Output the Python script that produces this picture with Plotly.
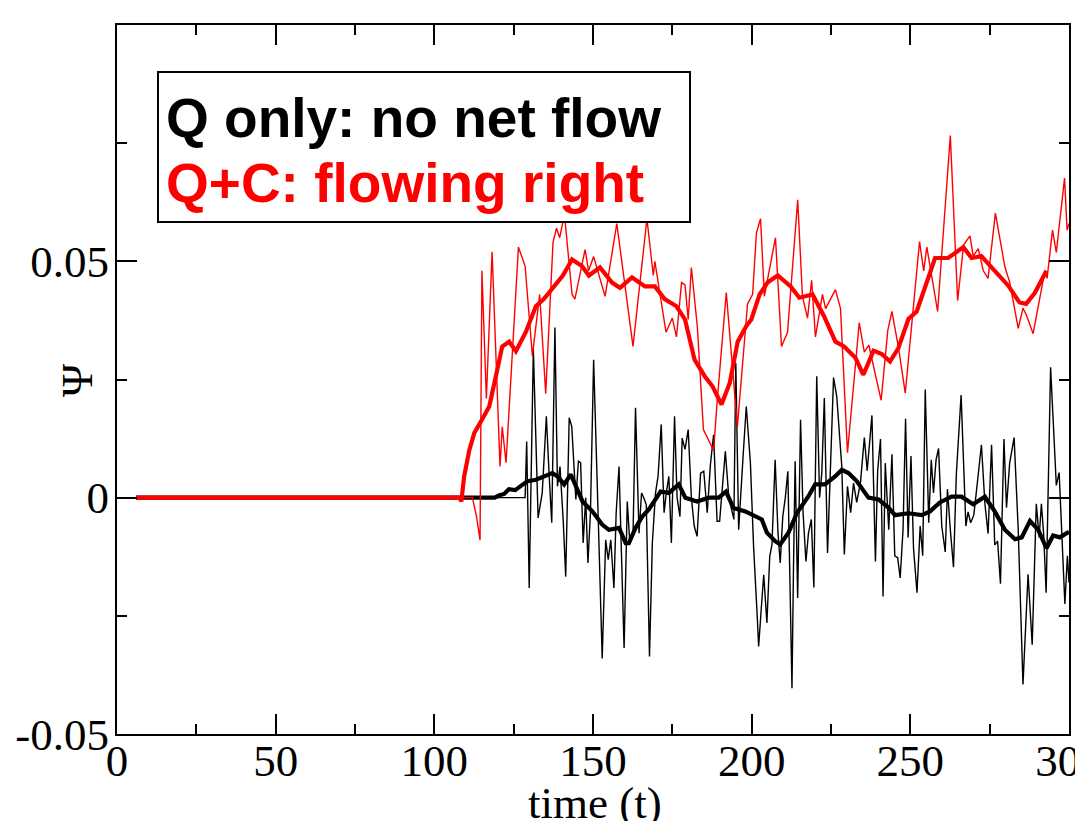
import plotly.graph_objects as go

# ---------------- data ----------------
# Q only (black): raw and smoothed
q_raw_t = [6, 128.6, 129.1, 129.9, 131.2, 132.7, 134.0, 135.3, 136.2, 137.0, 138.0, 138.8, 139.6, 140.6,
           141.4, 142.5, 143.3, 144.6, 145.4, 146.1, 146.9, 147.7, 148.4, 149.2, 150.2, 151.2, 151.9,
           152.9, 154.0, 154.8, 155.6, 156.6, 157.3, 158.2, 159.0, 159.8, 160.8, 161.6, 162.6, 163.4,
           164.5, 165.3, 166.0, 166.8, 167.8, 168.7, 169.7, 170.5, 171.5, 172.4, 173.1, 173.9, 174.7,
           175.7, 176.5, 177.4, 178.1, 179.0, 180.0, 181.0, 181.9, 182.8, 183.9, 184.9, 186.0, 187.0,
           188.0, 189.1, 189.9, 190.9, 191.7, 192.8, 193.8, 194.4, 195.0, 195.9, 197.3, 198.3, 199.6,
           200.6, 201.7, 202.2, 203.0, 203.8, 204.8, 205.7, 206.4, 207.4, 208.3, 209.0, 209.8, 210.6,
           211.4, 212.2, 212.7, 213.2, 213.7, 214.5, 215.4, 216.2, 217.1, 217.9, 218.8, 219.6, 220.5,
           221.4, 222.1, 222.9, 223.9, 224.7, 225.8, 226.8, 228.4, 229.2, 230.2, 231.2, 232.1, 233.1,
           234.3, 235.5, 236.4, 237.9, 239.0, 239.7, 240.6, 241.4, 242.1, 243.2, 244.2, 245.1, 246.0,
           246.8, 247.7, 248.5, 249.3, 250.2, 251.0, 252.1, 253.1, 253.9, 254.7, 255.8, 256.6, 257.3,
           258.1, 258.9, 259.9, 261.0, 261.7, 262.6, 263.6, 264.5, 266.0, 267.5, 268.2, 269.0, 270.0,
           271.4, 272.4, 273.5, 274.5, 275.6, 276.6, 277.5, 278.4, 279.5, 280.3, 281.3, 282.7, 284.0,
           285.5, 287.1, 288.4, 289.7, 290.6, 291.3, 292.0, 292.8, 294.2, 296.0, 296.9, 298.7, 299.5, 300]
q_raw_v = [0, 0, 0.0119, -0.0191, 0.0314, -0.0043, 0.001, 0.0172, 0.0045, -0.0053, 0.036, 0.0024, 0.0066, -0.0047,
           -0.0167, 0.0169, 0.0151, -0.0004, 0.0077, 0.0074, -0.0096, 0.0, -0.0138, -0.0032, 0.0292, 0.008, -0.0103,
           -0.034, -0.0089, -0.0131, -0.0089, -0.0191, -0.0032, 0.0066, -0.0138, -0.0318, -0.0008, -0.0096, -0.0082, 0.019,
           -0.0075, 0.001, 0.0, -0.0015, -0.0336, -0.0096, 0.001, 0.0045, 0.0155, -0.0032, 0.001, 0.0045, -0.0096,
           0.0172, 0.0, -0.004, 0.0126, 0.0102, 0.0144, 0.0, -0.006, -0.0082, 0.0052, 0.0056, -0.0032, 0.007,
           0.0133, -0.005, -0.005, 0.0028, 0.0098, 0.0, -0.0032, -0.0046, 0.0285, -0.0068, 0.0088, 0.0193, 0.0074,
           -0.0103, -0.0244, -0.0315, -0.0237, -0.0163, -0.0265, -0.0124, -0.0099, 0.008, -0.0075, -0.0138, -0.004, 0.0,
           0.0056, -0.0265, -0.0403, -0.0138, 0.0077, -0.0212, 0.0165, -0.0032, -0.0135, -0.0075, -0.0046, -0.019, 0.0257,
           0.0, 0.0052, 0.0211, -0.0117, 0.0038, 0.0254, 0.0215, 0.0066, -0.012, 0.0024, -0.0032, 0.0031, -0.001,
           0.0033, 0.0127, 0.0057, 0.0174, -0.0135, 0.0057, 0.0124, -0.0209, 0.0073, -0.0068, 0.0092, -0.0123, -0.0127,
           -0.017, -0.0068, 0.0167, -0.0084, 0.0088, -0.0107, -0.0201, -0.006, -0.0123, 0.0229, -0.0053, 0.008, 0.001,
           0.008, 0.0104, -0.006, -0.0115, 0.0018, -0.0068, -0.0147, 0.005, 0.0217, -0.006, -0.003, -0.0053, -0.0037,
           0.0049, 0.0112, -0.0013, -0.0076, 0.0112, -0.01, -0.0092, -0.0182, 0.0124, -0.0021, 0.0073, 0.0127, -0.0068,
           -0.0395, -0.0162, -0.0311, -0.0013, -0.0084, -0.0013, -0.0076, -0.0201, 0.0276, 0.0026, 0.0053, -0.0225, -0.0123, -0.018]

q_avg_t = [6, 119, 120.5, 122, 123.5, 125.5, 127.5, 129.4, 132, 134.6, 137.2, 138.8, 140.9, 143, 144.6, 146.7,
           149.8, 152.9, 155, 158.2, 160.3, 161.3, 163.4, 165.5, 167.6, 171.3, 173.9, 177, 179.1, 182.8, 186.5,
           189.6, 191.9, 194.3, 198, 201.2, 203.2, 204.8, 207.4, 209, 211.6, 214.3, 217.9, 220, 223.1, 226.3,
           228.4, 230.5, 233.1, 236.8, 240, 243.1, 245.2, 249.4, 253.6, 256.2, 259.3, 263, 266.1, 269.8, 273.5,
           276.6, 279.8, 283, 285.1, 287.7, 290.3, 292.9, 295, 297.1, 299.5, 300]
q_avg_v = [0, 0, 0.0005, 0.0008, 0.0018, 0.0016, 0.0026, 0.0035, 0.0038, 0.0045, 0.0052, 0.0045, 0.0028, 0.0049,
           0.0024, -0.0008, -0.0029, -0.0057, -0.0068, -0.0064, -0.0096, -0.0096, -0.0064, -0.004, -0.0025, 0.0013,
           0.001, 0.0028, 0.0, -0.0008, 0.0, 0.0, 0.0013, -0.0022, -0.0029, -0.004, -0.0046, -0.0074, -0.0092, -0.0099,
           -0.0074, -0.0032, 0.0003, 0.0028, 0.0028, 0.0045, 0.0059, 0.0052, 0.0035, 0.0, -0.0004, -0.0021, -0.0037,
           -0.0033, -0.0037, -0.0029, -0.001, 0.0002, 0.0002, -0.0014, 0.0002, -0.0029, -0.0068, -0.0088, -0.0084,
           -0.0049, -0.0068, -0.0107, -0.008, -0.0084, -0.0072, -0.0072]

# Q+C (red): raw and smoothed
qc_raw_t = [6, 112, 113.3, 114.4, 115.0, 116.4, 118.2, 120.7, 121.4, 122.6, 126.5, 128.6, 130.9, 133.2, 135.1,
            137.4, 138.5, 139.5, 141.0, 143.4, 144.3, 147.5, 148.6, 150.2, 153.8, 157.5, 162.6, 167.0, 169.0,
            169.5, 173.0, 175.0, 176.3, 177.9, 179.0, 180.0, 181.0, 182.9, 184.8, 188.0, 189.2, 192.0, 195.5,
            198.7, 200.3, 201.5, 202.8, 204.0, 207.5, 209.4, 211.3, 214.5, 216.0, 217.6, 218.9, 220.1, 222.3,
            223.3, 226.4, 228.0, 230.2, 233.9, 235.5, 236.9, 240.8, 242.9, 244.2, 246.3, 248.4, 252.9, 254.2,
            255.2, 258.6, 262.6, 264.9, 266.8, 268.8, 269.8, 271.4, 273.0, 274.5, 276.8, 279.8, 281.3, 284.0,
            285.5, 286.6, 288.7, 292.4, 293.1, 294.8, 296.0, 298.6, 299.4, 300]
qc_raw_v = [0, 0, -0.004, -0.009, 0.048, 0.021, 0.052, 0.0066, 0.015, 0.0074, 0.053, 0.049, 0.030, 0.043, 0.022,
            0.054, 0.057, 0.055, 0.060, 0.043, 0.042, 0.0525, 0.048, 0.051, 0.0426, 0.058, 0.032, 0.059, 0.047,
            0.050, 0.035, 0.038, 0.034, 0.0455, 0.045, 0.0377, 0.0487, 0.036, 0.0144, 0.010, 0.021, 0.0434, 0.015,
            0.041, 0.043, 0.056, 0.059, 0.0426, 0.055, 0.032, 0.035, 0.063, 0.0426, 0.038, 0.046, 0.034, 0.043,
            0.040, 0.044, 0.040, 0.0095, 0.037, 0.0308, 0.0323, 0.0206, 0.0354, 0.0394, 0.0316, 0.0221, 0.0542, 0.048,
            0.053, 0.0394, 0.0766, 0.0417, 0.0535, 0.0554, 0.0511, 0.0527, 0.048, 0.0464, 0.0602, 0.0488, 0.0456, 0.0358,
            0.0401, 0.0386, 0.0347, 0.048, 0.0464, 0.0566, 0.0519, 0.0676, 0.0566, 0.058]

qc_avg_t = [6, 108, 108.5, 109.4, 111, 112.6, 115, 117.3, 119.5, 121.4, 123.6, 125.7, 128.8, 132, 134.5, 137.7,
            140.5, 143.4, 146.5, 148.7, 152.2, 156, 158.5, 162.3, 166.4, 169.5, 172.6, 176.3, 179, 182, 185.2,
            187.7, 190.5, 193.1, 195.6, 198.3, 199.9, 202.5, 205, 208.2, 212.3, 215, 219.2, 222.8, 226.4, 229.1,
            232.7, 235.2, 238.4, 241, 243.6, 246.2, 249.4, 252, 255.7, 257.8, 261.9, 266.7, 269.3, 272.4, 276.6,
            280.8, 284.4, 286.5, 289.2, 292.9]
qc_avg_v = [0, 0, -0.0008, 0.0045, 0.010, 0.0137, 0.0165, 0.0193, 0.026, 0.032, 0.033, 0.031, 0.035, 0.0405, 0.042,
            0.0447, 0.047, 0.0504, 0.049, 0.047, 0.0487, 0.0455, 0.0444, 0.0466, 0.0447, 0.0447, 0.042, 0.0405,
            0.0377, 0.0292, 0.0257, 0.0235, 0.0197, 0.0243, 0.033, 0.0363, 0.0377, 0.043, 0.0455, 0.047, 0.0447,
            0.0423, 0.043, 0.0384, 0.033, 0.032, 0.0296, 0.026, 0.0311, 0.0304, 0.0288, 0.0316, 0.0378, 0.0394,
            0.0464, 0.0507, 0.0507, 0.053, 0.0507, 0.0511, 0.048, 0.0449, 0.0413, 0.041, 0.0433, 0.048]

x_ticks = [0, 50, 100, 150, 200, 250, 300]
x_tick_text = ["0", "50", "100", "150", "200", "250", "300"]
x_minor = [25, 75, 125, 175, 225, 275]
y_ticks = [-0.05, 0, 0.05]
y_tick_text = ["-0.05", "0", "0.05"]
y_minor = [-0.025, 0.025, 0.075]

x_title = "time (t)"
y_title = "Ψ"
legend_lines = ["Q only: no net flow", "Q+C: flowing right"]

# ---------------- figure ----------------
# page has an 8px body margin: plot area in page pixels is x 117..1069, y 25..734
OFF = 8
W, H = 1083, 821
L, T = 117 - OFF, 25 - OFF
pw, ph = 952, 709
R = W - L - pw
B = H - T - ph

def px(xp):   # page pixel x -> paper
    return (xp - 117) / pw

def py(yp):   # page pixel y -> paper
    return (734 - yp) / ph

fig = go.Figure()
fig.add_trace(go.Scatter(x=q_raw_t, y=q_raw_v, mode="lines",
                         line=dict(color="black", width=1.4), showlegend=False))
fig.add_trace(go.Scatter(x=q_avg_t, y=q_avg_v, mode="lines",
                         line=dict(color="black", width=4.2), showlegend=False))
fig.add_trace(go.Scatter(x=qc_raw_t, y=qc_raw_v, mode="lines",
                         line=dict(color="#ff0000", width=1.4), showlegend=False))
fig.add_trace(go.Scatter(x=qc_avg_t, y=qc_avg_v, mode="lines",
                         line=dict(color="#ff0000", width=4.2), showlegend=False))

axis_font = dict(family="Liberation Serif", size=45, color="black")

fig.update_layout(
    width=W, height=H,
    margin=dict(l=L, r=R, t=T, b=B, autoexpand=False),
    paper_bgcolor="white", plot_bgcolor="white",
    xaxis=dict(range=[0, 300], tickvals=x_ticks, ticktext=x_tick_text,
               ticks="inside", ticklen=20, tickwidth=2, tickcolor="black",
               minor=dict(tickvals=x_minor, ticks="inside", ticklen=10, tickwidth=2, tickcolor="black"),
               showline=True, linewidth=2, linecolor="black", mirror="allticks",
               showgrid=False, zeroline=False, tickfont=axis_font,
               ticklabeloverflow="allow", ticklabelstandoff=-14),
    yaxis=dict(range=[-0.05, 0.1], tickvals=y_ticks, ticktext=y_tick_text,
               ticks="inside", ticklen=20, tickwidth=2, tickcolor="black",
               minor=dict(tickvals=y_minor, ticks="inside", ticklen=10, tickwidth=2, tickcolor="black"),
               showline=True, linewidth=2, linecolor="black", mirror="allticks",
               showgrid=False, zeroline=False, tickfont=axis_font,
               ticklabeloverflow="allow", ticklabelstandoff=-3),
)

# axis titles
fig.add_annotation(text=x_title, xref="paper", yref="paper", x=px(595), y=py(803),
                   xanchor="center", yanchor="middle", showarrow=False, font=axis_font)
fig.add_annotation(text=y_title, xref="paper", yref="paper", x=px(77), y=py(380),
                   xanchor="center", yanchor="middle", showarrow=False, textangle=-90,
                   font=axis_font)

# legend box
fig.add_shape(type="rect", xref="paper", yref="paper",
              x0=px(158), x1=px(690), y0=py(222), y1=py(72),
              fillcolor="white", line=dict(color="black", width=2), layer="above")
for txt, col, yc in zip(legend_lines, ["black", "#ff0000"], [118, 183]):
    fig.add_annotation(text="<b>" + txt + "</b>", xref="paper", yref="paper",
                       x=px(164), y=py(yc), xanchor="left", yanchor="middle",
                       showarrow=False,
                       font=dict(family="Liberation Sans", size=55, color=col))

fig.write_html("out.html")
